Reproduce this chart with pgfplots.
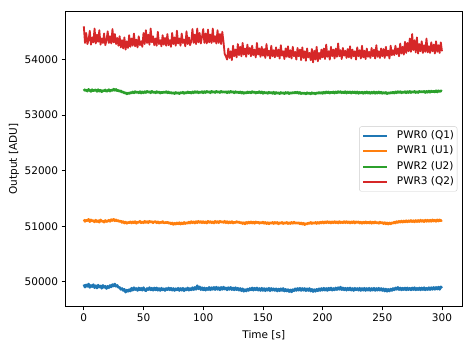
\documentclass[border=0pt]{standalone}
\usepackage{fontspec}
\setmainfont{DejaVu Sans}
\usepackage{pgfplots}
\usepackage{pgfplotstable}
\pgfplotsset{compat=1.18}
\definecolor{tabblue}{HTML}{1F77B4}
\definecolor{taborange}{HTML}{FF7F0E}
\definecolor{tabgreen}{HTML}{2CA02C}
\definecolor{tabred}{HTML}{D62728}
\pgfplotstableread{
t b o g r
0 49950 51120 53470 54600
1 49900 51085 53440 54300
2 49945 51110 53455 54480
3 49915 51095 53430 54280
4 49960 51125 53465 54350
5 49895 51080 53445 54520
6 49935 51115 53425 54270
7 49910 51090 53460 54400
8 49950 51105 53435 54310
9 49890 51075 53450 54560
10 49930 51110 53455 54290
11 49885 51080 53425 54450
12 49940 51100 53460 54320
13 49900 51070 53430 54530
14 49925 51115 53450 54270
15 49880 51085 53420 54380
16 49935 51095 53445 54300
17 49895 51070 53435 54470
18 49920 51105 53455 54260
19 49875 51080 53425 54340
20 49920 51090 53440 54510
21 49890 51110 53460 54300
22 49935 51085 53430 54420
23 49905 51120 53455 54290
24 49950 51100 53440 54550
25 49920 51125 53470 54310
26 49960 51095 53445 54460
27 49915 51115 53465 54280
28 49935 51090 53435 54390
29 49895 51105 53450 54250
30 49900 51080 53425 54420
31 49860 51095 53440 54220
32 49880 51065 53410 54350
33 49840 51085 53420 54200
34 49865 51055 53395 54400
35 49810 51075 53405 54180
36 49850 51050 53380 54330
37 49825 51070 53400 54210
38 49860 51060 53385 54440
39 49830 51080 53410 54230
40 49885 51055 53395 54380
41 49845 51080 53420 54250
42 49895 51060 53400 54470
43 49855 51085 53425 54240
44 49880 51050 53405 54360
45 49840 51075 53420 54220
46 49890 51065 53400 54420
47 49850 51090 53425 54260
48 49885 51060 53395 54330
49 49845 51080 53420 54230
50 49895 51060 53400 54480
51 49850 51090 53425 54280
52 49835 51065 53405 54530
53 49880 51085 53430 54300
54 49855 51060 53410 54450
55 49895 51090 53425 54270
56 49850 51070 53400 54560
57 49885 51085 53430 54310
58 49845 51060 53405 54420
59 49890 51080 53420 54260
60 49850 51085 53400 54380
61 49890 51060 53425 54250
62 49845 51080 53405 54500
63 49880 51055 53420 54280
64 49840 51075 53395 54350
65 49885 51060 53415 54240
66 49850 51085 53400 54440
67 49875 51055 53420 54270
68 49840 51070 53405 54390
69 49880 51060 53425 54250
70 49855 51075 53400 54460
71 49890 51050 53420 54260
72 49850 51065 53395 54350
73 49885 51040 53410 54230
74 49845 51060 53390 54480
75 49880 51030 53405 54280
76 49840 51055 53385 54400
77 49875 51035 53410 54250
78 49850 51060 53390 54520
79 49885 51040 53405 54290
80 49840 51065 53385 54380
81 49880 51035 53410 54250
82 49845 51060 53395 54470
83 49885 51040 53415 54300
84 49835 51070 53390 54360
85 49875 51045 53410 54240
86 49850 51065 53395 54510
87 49890 51050 53420 54280
88 49845 51075 53400 54400
89 49880 51055 53415 54260
90 49850 51085 53395 54330
91 49895 51060 53420 54550
92 49855 51080 53400 54300
93 49900 51055 53425 54450
94 49860 51085 53405 54280
95 49930 51060 53425 54560
96 49870 51090 53400 54310
97 49910 51065 53420 54480
98 49855 51085 53405 54290
99 49895 51060 53425 54410
100 49850 51085 53400 54550
101 49890 51060 53425 54300
102 49845 51080 53405 54470
103 49885 51055 53430 54290
104 49855 51090 53410 54540
105 49900 51065 53425 54310
106 49850 51085 53400 54450
107 49895 51060 53430 54300
108 49860 51080 53410 54560
109 49900 51055 53425 54320
110 49855 51090 53405 54420
111 49905 51065 53430 54290
112 49860 51085 53410 54530
113 49895 51060 53425 54300
114 49850 51090 53405 54460
115 49900 51070 53430 54280
116 49860 51085 53410 54500
117 49905 51065 53425 54320
118 49865 51090 53410 54100
119 49890 51060 53425 54060
120 49850 51085 53400 54000
121 49895 51055 53425 54200
122 49860 51080 53405 54030
123 49900 51060 53430 54150
124 49855 51085 53410 53990
125 49890 51055 53425 54250
126 49850 51075 53400 54060
127 49895 51060 53425 54180
128 49855 51085 53405 54040
129 49885 51065 53420 54280
130 49845 51080 53400 54080
131 49880 51055 53420 54230
132 49835 51070 53395 54060
133 49875 51045 53415 54300
134 49825 51065 53390 54090
135 49860 51040 53410 54200
136 49830 51070 53395 54050
137 49870 51050 53420 54270
138 49840 51075 53400 54100
139 49880 51055 53420 54210
140 49850 51080 53400 54060
141 49890 51055 53425 54250
142 49845 51075 53405 54080
143 49885 51050 53420 54180
144 49850 51080 53395 54040
145 49890 51060 53415 54300
146 49845 51075 53400 54090
147 49880 51050 53425 54200
148 49840 51070 53400 54050
149 49885 51055 53420 54230
150 49840 51075 53390 54070
151 49880 51050 53415 54190
152 49835 51070 53395 54030
153 49875 51045 53410 54280
154 49845 51065 53390 54070
155 49885 51040 53415 54160
156 49835 51065 53395 54020
157 49880 51050 53410 54250
158 49845 51070 53390 54060
159 49875 51045 53415 54170
160 49840 51070 53385 54040
161 49875 51050 53410 54220
162 49830 51070 53390 54060
163 49870 51040 53405 54180
164 49835 51065 53385 54020
165 49875 51050 53410 54260
166 49840 51070 53390 54070
167 49880 51045 53405 54150
168 49830 51065 53385 54010
169 49865 51050 53410 54200
170 49830 51070 53390 54050
171 49860 51045 53410 54240
172 49820 51065 53385 54040
173 49855 51045 53405 54170
174 49815 51070 53390 54020
175 49860 51050 53410 54230
176 49835 51075 53395 54060
177 49875 51050 53415 54140
178 49840 51065 53395 54000
179 49880 51050 53415 54210
180 49845 51065 53390 54060
181 49885 51040 53410 54180
182 49840 51060 53385 53990
183 49880 51035 53405 54220
184 49845 51055 53385 54030
185 49880 51025 53400 54150
186 49835 51050 53380 53980
187 49875 51035 53405 54200
188 49840 51060 53385 54040
189 49880 51045 53400 54120
190 49830 51070 53380 53990
191 49865 51045 53405 54190
192 49820 51065 53385 53950
193 49860 51050 53400 54160
194 49825 51070 53380 54000
195 49865 51045 53405 54230
196 49835 51070 53390 53970
197 49875 51050 53410 54120
198 49840 51075 53390 54010
199 49880 51055 53410 54180
200 49845 51080 53390 54040
201 49885 51055 53415 54200
202 49845 51080 53395 54010
203 49880 51060 53420 54270
204 49840 51085 53400 54050
205 49885 51060 53420 54150
206 49850 51080 53395 54000
207 49890 51055 53415 54230
208 49845 51080 53400 54060
209 49880 51060 53420 54180
210 49850 51085 53395 54020
211 49890 51060 53420 54200
212 49855 51080 53400 54050
213 49895 51055 53425 54290
214 49860 51085 53405 54060
215 49905 51060 53425 54170
216 49855 51080 53400 54010
217 49890 51060 53420 54210
218 49850 51085 53400 54070
219 49885 51060 53425 54160
220 49845 51085 53395 54030
221 49885 51060 53420 54190
222 49850 51080 53400 54040
223 49890 51055 53420 54240
224 49845 51080 53395 54020
225 49880 51060 53420 54180
226 49840 51085 53400 54060
227 49885 51055 53420 54150
228 49850 51080 53395 54000
229 49880 51060 53420 54220
230 49845 51080 53390 54060
231 49885 51055 53415 54170
232 49840 51075 53395 54020
233 49880 51050 53415 54250
234 49845 51075 53390 54040
235 49885 51055 53415 54160
236 49840 51080 53395 54010
237 49880 51055 53420 54200
238 49845 51075 53395 54050
239 49885 51055 53415 54140
240 49840 51080 53390 54030
241 49880 51050 53415 54210
242 49845 51075 53395 54060
243 49885 51055 53420 54180
244 49840 51080 53390 54020
245 49880 51055 53415 54260
246 49845 51070 53395 54050
247 49885 51050 53420 54150
248 49845 51075 53395 54030
249 49880 51055 53415 54200
250 49840 51070 53390 54060
251 49875 51045 53410 54190
252 49830 51065 53390 54030
253 49870 51040 53410 54230
254 49825 51060 53385 54070
255 49865 51035 53405 54160
256 49830 51060 53390 54020
257 49870 51040 53410 54250
258 49840 51065 53395 54080
259 49880 51050 53415 54170
260 49850 51075 53395 54080
261 49890 51055 53420 54250
262 49860 51085 53400 54100
263 49900 51065 53425 54200
264 49855 51090 53405 54060
265 49890 51070 53425 54290
266 49850 51095 53400 54110
267 49885 51070 53420 54230
268 49855 51095 53405 54090
269 49890 51075 53425 54320
270 49850 51100 53400 54120
271 49890 51075 53425 54300
272 49855 51100 53405 54150
273 49885 51080 53430 54380
274 49850 51105 53405 54140
275 49890 51080 53425 54460
276 49855 51100 53410 54170
277 49895 51075 53430 54350
278 49850 51105 53405 54130
279 49885 51080 53425 54400
280 49855 51105 53405 54110
281 49890 51080 53430 54280
282 49850 51110 53410 54150
283 49890 51085 53430 54330
284 49855 51105 53410 54120
285 49895 51080 53430 54260
286 49850 51110 53405 54140
287 49885 51085 53430 54380
288 49855 51110 53410 54130
289 49895 51085 53435 54240
290 49855 51110 53410 54120
291 49895 51085 53435 54310
292 49860 51115 53415 54150
293 49900 51090 53435 54270
294 49860 51110 53415 54110
295 49900 51085 53440 54330
296 49865 51115 53415 54140
297 49905 51090 53440 54260
298 49860 51115 53420 54120
299 49910 51095 53440 54310
300 49885 51110 53430 54150
}\datatable
\begin{document}
\begin{tikzpicture}
\useasboundingbox (-65.3pt,-40.3pt) rectangle (407.7pt,306.7pt);
\begin{axis}[
  at={(0pt,0pt)}, anchor=south west,
  scale only axis, width=397pt, height=295.4pt,
  xmin=-15.5, xmax=317, ymin=49550, ymax=54870,
  axis line style={black, line width=0.8pt},
  tick align=outside, tick pos=left,
  major tick length=3.7pt,
  tick style={black, line width=0.8pt},
  xtick={0,50,...,300}, ytick={50000,51000,...,54000},
  scaled y ticks=false,
  /pgf/number format/1000 sep={},
  /pgf/number format/assume math mode=true,
  tick label style={font=\fontsize{10.5}{12.6}\selectfont},
  label style={font=\fontsize{10.5}{12.6}\selectfont},
  xlabel={Time [s]}, ylabel={Output [ADU]},
  xlabel style={at={(axis description cs:0.5,-0.0789)}, anchor=north, inner sep=0pt},
  ylabel style={at={(axis description cs:-0.116,0.5)}, anchor=south, inner sep=0pt},
  legend style={at={(axis description cs:1,0.5)}, xshift=-5pt, anchor=east,
    draw=black!20, fill=white, fill opacity=0.8, text opacity=1, draw opacity=1, rounded corners=2pt,
    font=\fontsize{10.5}{12.6}\selectfont, inner xsep=3pt, inner ysep=1.5pt, column sep=8.5pt,
    nodes={inner xsep=0pt, inner ysep=2.7pt, text height=7.5pt, text depth=2.5pt}},
  legend cell align=left,
  legend image code/.code={\draw[#1, line width=2pt] (0pt,0pt) -- (24pt,0pt);},
]
\addplot[draw=tabblue, line width=2.4pt, line join=round, mark=none] table[x=t, y=b] {\datatable};
\addlegendentry{PWR0 (Q1)}
\addplot[draw=taborange, line width=2.4pt, line join=round, mark=none] table[x=t, y=o] {\datatable};
\addlegendentry{PWR1 (U1)}
\addplot[draw=tabgreen, line width=2.4pt, line join=round, mark=none] table[x=t, y=g] {\datatable};
\addlegendentry{PWR2 (U2)}
\addplot[draw=tabred, line width=1.8pt, line join=round, mark=none] table[x=t, y=r] {\datatable};
\addlegendentry{PWR3 (Q2)}
\end{axis}
\end{tikzpicture}
\end{document}
